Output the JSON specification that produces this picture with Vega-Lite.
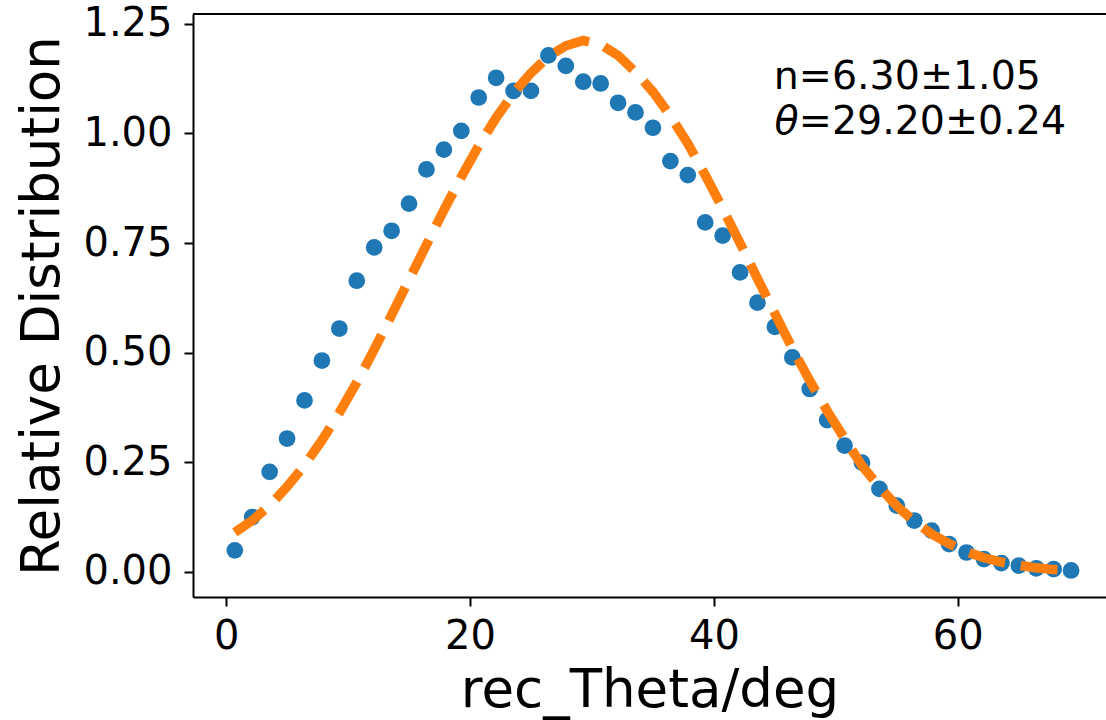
{
  "$schema": "https://vega.github.io/schema/vega-lite/v6.json",
  "width": 913,
  "height": 583,
  "autosize": "none",
  "padding": {"left": 193, "top": 14, "right": 0, "bottom": 123},
  "background": "white",
  "datasets": {
    "pts": [
      {"x": 0.714, "y_pt": 0.049, "y_fit": 0.090},
      {"x": 2.143, "y_pt": 0.125, "y_fit": 0.117},
      {"x": 3.571, "y_pt": 0.228, "y_fit": 0.151},
      {"x": 5.000, "y_pt": 0.304, "y_fit": 0.194},
      {"x": 6.429, "y_pt": 0.391, "y_fit": 0.243},
      {"x": 7.857, "y_pt": 0.482, "y_fit": 0.300},
      {"x": 9.286, "y_pt": 0.555, "y_fit": 0.363},
      {"x": 10.714, "y_pt": 0.664, "y_fit": 0.432},
      {"x": 12.143, "y_pt": 0.740, "y_fit": 0.507},
      {"x": 13.571, "y_pt": 0.778, "y_fit": 0.586},
      {"x": 15.000, "y_pt": 0.840, "y_fit": 0.666},
      {"x": 16.429, "y_pt": 0.918, "y_fit": 0.746},
      {"x": 17.857, "y_pt": 0.963, "y_fit": 0.825},
      {"x": 19.286, "y_pt": 1.006, "y_fit": 0.901},
      {"x": 20.714, "y_pt": 1.082, "y_fit": 0.972},
      {"x": 22.143, "y_pt": 1.127, "y_fit": 1.036},
      {"x": 23.571, "y_pt": 1.097, "y_fit": 1.092},
      {"x": 25.000, "y_pt": 1.097, "y_fit": 1.138},
      {"x": 26.429, "y_pt": 1.178, "y_fit": 1.175},
      {"x": 27.857, "y_pt": 1.154, "y_fit": 1.200},
      {"x": 29.286, "y_pt": 1.118, "y_fit": 1.212},
      {"x": 30.714, "y_pt": 1.114, "y_fit": 1.203},
      {"x": 32.143, "y_pt": 1.070, "y_fit": 1.178},
      {"x": 33.571, "y_pt": 1.048, "y_fit": 1.140},
      {"x": 35.000, "y_pt": 1.013, "y_fit": 1.095},
      {"x": 36.429, "y_pt": 0.937, "y_fit": 1.040},
      {"x": 37.857, "y_pt": 0.905, "y_fit": 0.977},
      {"x": 39.286, "y_pt": 0.797, "y_fit": 0.905},
      {"x": 40.714, "y_pt": 0.767, "y_fit": 0.829},
      {"x": 42.143, "y_pt": 0.683, "y_fit": 0.750},
      {"x": 43.571, "y_pt": 0.614, "y_fit": 0.669},
      {"x": 45.000, "y_pt": 0.559, "y_fit": 0.589},
      {"x": 46.429, "y_pt": 0.489, "y_fit": 0.510},
      {"x": 47.857, "y_pt": 0.417, "y_fit": 0.436},
      {"x": 49.286, "y_pt": 0.346, "y_fit": 0.367},
      {"x": 50.714, "y_pt": 0.288, "y_fit": 0.304},
      {"x": 52.143, "y_pt": 0.249, "y_fit": 0.242},
      {"x": 53.571, "y_pt": 0.189, "y_fit": 0.193},
      {"x": 55.000, "y_pt": 0.151, "y_fit": 0.150},
      {"x": 56.429, "y_pt": 0.117, "y_fit": 0.115},
      {"x": 57.857, "y_pt": 0.094, "y_fit": 0.086},
      {"x": 59.286, "y_pt": 0.063, "y_fit": 0.064},
      {"x": 60.714, "y_pt": 0.044, "y_fit": 0.046},
      {"x": 62.143, "y_pt": 0.029, "y_fit": 0.032},
      {"x": 63.571, "y_pt": 0.020, "y_fit": 0.022},
      {"x": 65.000, "y_pt": 0.014, "y_fit": 0.015},
      {"x": 66.429, "y_pt": 0.008, "y_fit": 0.009},
      {"x": 67.857, "y_pt": 0.006, "y_fit": 0.005},
      {"x": 69.286, "y_pt": 0.003, "y_fit": 0.003}
    ],
    "labels": [
      {"x": 44.91, "y": 1.1008, "t": "n=6.30±1.05", "italic": false},
      {"x": 46.96, "y": 0.998, "t": "=29.20±0.24", "italic": false},
      {"x": 44.96, "y": 0.998, "t": "θ", "italic": true}
    ]
  },
  "layer": [
    {
      "data": {"name": "pts"},
      "mark": {"type": "circle", "size": 280, "color": "#1f77b4", "opacity": 1},
      "encoding": {
        "x": {
          "field": "x", "type": "quantitative",
          "scale": {"domain": [-2.714, 72.15], "nice": false, "zero": false},
          "axis": {"values": [0, 20, 40, 60], "format": "d", "title": "rec_Theta/deg", "labelPadding": 10, "titlePadding": 8}
        },
        "y": {
          "field": "y_pt", "type": "quantitative",
          "scale": {"domain": [-0.0575, 1.2725], "nice": false, "zero": false},
          "axis": {"values": [0, 0.25, 0.5, 0.75, 1.0, 1.25], "format": ".2f", "title": "Relative Distribution", "labelPadding": 12, "titlePadding": 13}
        }
      }
    },
    {
      "data": {"name": "pts"},
      "mark": {"type": "line", "color": "#ff7f0e", "strokeWidth": 9.5, "strokeDash": [37, 16], "strokeCap": "butt"},
      "encoding": {
        "x": {"field": "x", "type": "quantitative"},
        "y": {"field": "y_fit", "type": "quantitative"}
      }
    },
    {
      "data": {"values": [{"top": 1.2725}]},
      "mark": {"type": "rule", "color": "black", "strokeWidth": 2},
      "encoding": {
        "y": {"field": "top", "type": "quantitative"}
      }
    },
    {
      "data": {"name": "labels"},
      "transform": [{"filter": "!datum.italic"}],
      "mark": {"type": "text", "align": "left", "baseline": "alphabetic", "font": "DejaVu Sans", "fontSize": 39.5, "color": "black"},
      "encoding": {
        "x": {"field": "x", "type": "quantitative"},
        "y": {"field": "y", "type": "quantitative"},
        "text": {"field": "t"}
      }
    },
    {
      "data": {"name": "labels"},
      "transform": [{"filter": "datum.italic"}],
      "mark": {"type": "text", "align": "left", "baseline": "alphabetic", "font": "DejaVu Sans", "fontSize": 39.5, "fontStyle": "italic", "color": "black"},
      "encoding": {
        "x": {"field": "x", "type": "quantitative"},
        "y": {"field": "y", "type": "quantitative"},
        "text": {"field": "t"}
      }
    }
  ],
  "config": {
    "view": {"stroke": null},
    "axis": {
      "grid": false,
      "domainColor": "black",
      "domainWidth": 2,
      "tickColor": "black",
      "tickWidth": 2,
      "tickSize": 9,
      "labelFont": "DejaVu Sans",
      "labelFontSize": 40,
      "labelColor": "black",
      "titleFont": "DejaVu Sans",
      "titleFontSize": 53,
      "titleFontWeight": "normal",
      "titleColor": "black"
    }
  }
}
